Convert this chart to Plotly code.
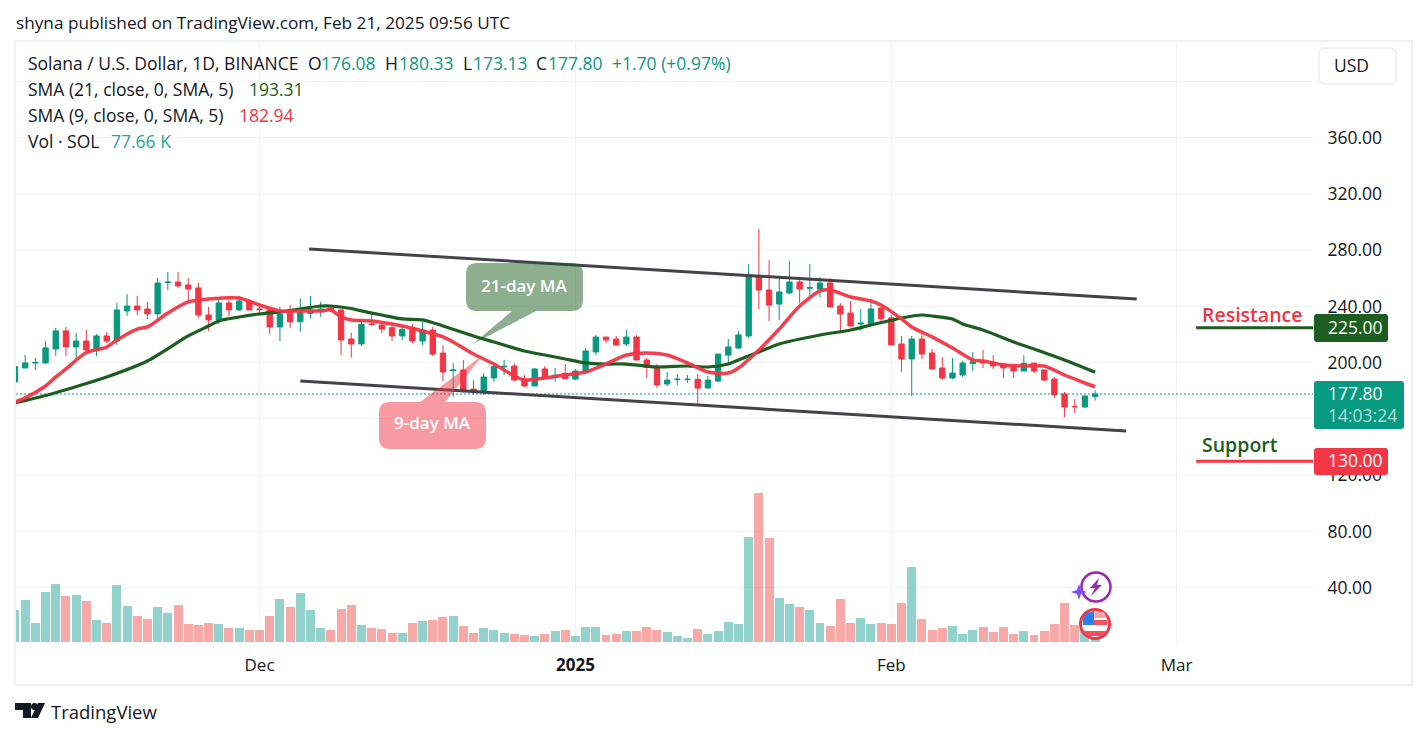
import pandas as pd
import plotly.graph_objects as go

W, H = 1427, 738

dates = pd.date_range('2024-11-07', '2025-02-21', freq='D')

opens = [186.4, 196.3, 199.8, 199.9, 209.8, 222.7, 211.3, 215.5, 209.1, 219.1, 215.5, 236.9, 240.4, 238.3, 234.8, 257.1, 257.5, 255.4, 253.3, 234.0, 230.5, 242.6, 237.6, 244.0,
         238.3, 237.6, 225.5, 237.6, 229.2, 235.2, 237.1, 239.0, 237.6, 216.9, 213.4, 227.6, 226.9, 225.0, 219.1, 224.7, 215.5, 223.3, 206.9, 194.4, 194.8, 181.3, 179.9, 189.2, 197.1, 197.7, 188.4, 183.5, 195.6, 189.6, 192.5,
         188.4, 193.4, 207.7, 218.3, 216.9, 213.4, 218.3, 202.0, 197.7, 184.9, 188.0, 188.0, 188.2, 182.0, 187.0, 205.5, 210.5, 219.1, 262.2, 251.8, 241.8, 249.7, 257.5, 253.1, 252.5, 256.8, 240.4, 235.4, 227.6, 227.6, 239.0,
         231.9, 213.4, 202.7, 216.9, 207.0, 196.3, 189.2, 191.3, 199.4, 200.5, 200.5, 199.1, 198.4, 194.1, 199.8, 194.9, 188.4, 177.8, 169.0, 168.5, 176.08]
highs = [197.3, 205.6, 203.4, 215.5, 224.8, 225.5, 221.2, 223.4, 220.5, 221.9, 242.6, 249.0, 247.6, 243.3, 260.4, 264.6, 264.6, 260.4, 256.8, 239.7, 244.7, 244.7, 247.6, 245.4,
         240.4, 238.3, 239.7, 241.2, 245.9, 247.5, 243.5, 241.1, 237.6, 221.4, 230.9, 235.2, 229.2, 226.9, 225.7, 227.6, 229.2, 225.7, 212.6, 199.6, 202.0, 187.7, 192.5, 199.1, 202.0, 199.6, 191.3, 196.3, 197.7, 196.3, 199.1,
         195.6, 210.5, 219.8, 218.3, 219.1, 223.3, 219.8, 203.4, 199.1, 193.4, 192.0, 191.3, 192.0, 190.6, 206.2, 216.9, 222.6, 270.3, 295.2, 273.1, 260.3, 272.4, 258.9, 270.3, 261.0, 260.3, 242.5, 244.0, 238.3, 245.4, 239.9,
         234.0, 219.1, 219.1, 220.5, 209.8, 204.1, 203.4, 201.3, 207.7, 209.1, 205.6, 199.1, 199.1, 205.5, 199.8, 195.6, 189.9, 179.2, 174.2, 176.4, 180.33]
lows = [186.4, 196.3, 194.9, 199.2, 204.9, 204.9, 201.3, 207.0, 204.9, 214.1, 212.7, 233.3, 234.0, 231.2, 230.5, 251.8, 253.3, 244.7, 231.9, 222.7, 227.6, 233.3, 236.9, 237.6,
        234.8, 220.5, 215.5, 224.8, 222.1, 231.6, 232.8, 236.4, 205.5, 203.6, 211.9, 226.4, 221.0, 215.5, 216.2, 213.8, 212.6, 204.8, 187.0, 175.9, 178.7, 177.3, 177.3, 186.5, 191.3, 187.0, 183.0, 183.5, 188.4, 186.5, 188.2,
        187.7, 193.4, 205.5, 214.0, 211.9, 211.9, 202.0, 189.2, 182.0, 183.5, 184.2, 185.6, 170.0, 182.0, 186.3, 198.4, 209.8, 217.6, 238.3, 229.7, 230.4, 248.9, 242.5, 247.5, 246.8, 239.7, 221.2, 225.7, 222.8, 226.9, 229.3,
        212.6, 193.4, 176.4, 202.7, 195.6, 187.7, 188.4, 189.9, 194.1, 196.3, 195.6, 189.2, 189.2, 194.1, 192.7, 187.0, 175.0, 161.4, 164.3, 167.8, 173.13]
closes = [197.3, 199.9, 200.2, 210.6, 222.7, 211.3, 215.5, 209.1, 219.1, 215.5, 237.6, 240.4, 237.6, 234.8, 256.8, 257.4, 254.7, 252.5, 234.0, 230.5, 242.6, 237.6, 244.0, 237.6,
          237.8, 225.5, 234.8, 229.1, 235.9, 237.6, 238.3, 237.1, 216.2, 213.4, 227.4, 227.2, 224.0, 219.1, 223.8, 215.5, 223.3, 206.2, 193.4, 194.8, 180.6, 179.9, 189.9, 197.2, 197.5, 187.7, 183.5, 195.6, 189.0, 191.1, 188.7,
          194.1, 208.4, 218.3, 216.2, 212.6, 218.3, 202.0, 196.8, 184.2, 187.7, 188.3, 188.3, 182.0, 187.7, 206.2, 211.2, 219.8, 262.2, 251.8, 241.1, 250.4, 257.5, 252.5, 253.5, 256.8, 239.7, 234.7, 226.2, 228.2, 238.3, 231.4,
          212.6, 202.7, 216.9, 206.2, 195.6, 189.2, 192.7, 199.8, 200.8, 200.0, 197.7, 196.3, 194.1, 199.6, 194.1, 187.7, 177.1, 168.5, 168.7, 176.4, 177.80]
volumes_k = [960, 1260, 570, 1500, 1740, 1380, 1410, 1230, 660, 570, 1710, 1080, 780, 690, 1050, 870, 1110, 540, 510, 570, 540, 420, 420, 360,
             360, 780, 1290, 1050, 1470, 960, 420, 360, 990, 1110, 510, 420, 390, 270, 270, 570, 630, 660, 750, 780, 480, 270, 420, 360, 270, 240, 210, 180, 240, 330, 360,
             180, 450, 450, 210, 240, 330, 330, 450, 360, 300, 180, 120, 390, 240, 330, 600, 540, 3150, 4470, 3120, 1320, 1140, 1050, 960, 570, 480, 1290, 570, 720, 540, 570,
             540, 1170, 2250, 690, 360, 420, 480, 240, 360, 450, 300, 450, 240, 330, 210, 330, 540, 1170, 510, 360, 77.66]

sma21_idx = [0, 3, 7, 9, 13, 17, 19, 20, 22, 24, 26, 28, 30, 31, 33, 34, 36, 38, 40, 42, 45, 47, 50, 52, 54, 56, 58, 60, 63, 66, 68, 70, 71, 73, 75, 79, 82, 84, 87, 89, 90, 92, 93, 95, 98, 100, 103, 106]
sma21_values = [171.4, 176.7, 185.3, 189.9, 201.3, 219.1, 226.2, 229.8, 232.6, 234.7, 236.2, 238.3, 240.4, 240.4, 238.6, 236.9, 234.0, 231.2, 230.5, 226.2, 219.1, 214.8, 208.4, 205.5, 202.7, 199.9, 199.1, 199.1, 197.0, 197.7, 197.0, 199.1, 202.0, 207.7, 213.4, 219.8, 223.3, 226.9, 231.9, 234.0, 233.3, 231.2, 227.6, 223.3, 214.8, 209.8, 202.0, 193.31]

sma9_idx = [0, 1, 3, 4, 5, 7, 9, 10, 12, 13, 15, 17, 19, 22, 24, 26, 28, 30, 31, 32, 33, 35, 38, 40, 42, 43, 45, 47, 49, 50, 52, 54, 56, 58, 60, 62, 64, 66, 68, 70, 71, 73, 75, 77, 79, 80, 82, 84, 85, 87, 88, 90, 92, 94, 95, 97, 99, 101, 103, 105, 106]
sma9_values = [172.1, 175.0, 183.5, 189.9, 195.6, 207.3, 211.2, 216.2, 224.0, 225.5, 235.4, 243.3, 245.4, 246.1, 241.1, 236.9, 236.9, 236.9, 237.6, 232.6, 230.5, 229.8, 226.2, 222.6, 218.4, 214.8, 206.3, 199.1, 190.6, 187.7, 189.2, 191.3, 193.4, 199.1, 205.5, 207.0, 205.5, 199.9, 193.4, 192.7, 196.3, 209.1, 224.0, 240.4, 251.1, 251.8, 246.8, 244.0, 241.1, 231.2, 225.5, 218.4, 210.5, 202.0, 201.3, 198.4, 197.7, 197.7, 191.3, 185.6, 182.94]

channel_top_x = ['2024-12-05 21:00', '2025-02-25 02:00']
channel_top_y = [281.0, 245.4]
channel_low_x = ['2024-12-05 00:00', '2025-02-24 01:00']
channel_low_y = [187.0, 151.5]

# 160.00 and 400.00 have a grid line but no visible label in the reference
price_ticks = [40, 80, 120, 160, 200, 240, 280, 320, 360, 400]
price_labels = ['40.00', '80.00', '120.00', '', '200.00', '240.00', '280.00', '320.00', '360.00', '']
date_ticks = ['2024-12-01', '2025-01-01', '2025-02-01', '2025-03-01']
date_labels = ['Dec', '<b>2025</b>', 'Feb', 'Mar']

last_price = 177.80
resistance = 225.00
support = 130.00

GREEN = '#089981'
RED = '#f23645'
DARK_GREEN = '#1b5e20'
INK = '#131722'
GRID = '#f3f3f4'
FONT = 'Open Sans'
TEXT_SIZE = 17.5

plot_left, plot_right, plot_top, plot_bottom = 16, 1313, 42, 643
x_range = ['2024-11-07 02:24', '2025-03-14 09:07']
y_range = [0.56, 428.3]


def px(x):
    return x / W


def py(y):
    return 1 - y / H


def pt(x, y):
    return f'{px(x):.5f},{py(y):.5f}'


def rrect(x0, y0, x1, y1, r, top=None, bottom=None):
    # rounded box, top / bottom put a callout tail in that edge: (x_a, x_b, tip_x, tip_y)
    p = f'M {pt(x0 + r, y0)} '
    if top:
        p += f'L {pt(top[0], y0)} L {pt(top[2], top[3])} L {pt(top[1], y0)} '
    p += f'L {pt(x1 - r, y0)} Q {pt(x1, y0)} {pt(x1, y0 + r)} L {pt(x1, y1 - r)} Q {pt(x1, y1)} {pt(x1 - r, y1)} '
    if bottom:
        p += f'L {pt(bottom[1], y1)} L {pt(bottom[2], bottom[3])} L {pt(bottom[0], y1)} '
    p += f'L {pt(x0 + r, y1)} Q {pt(x0, y1)} {pt(x0, y1 - r)} L {pt(x0, y0 + r)} Q {pt(x0, y0)} {pt(x0 + r, y0)} Z'
    return p


def poly(*points):
    return 'M ' + ' L '.join(pt(x, y) for x, y in points) + ' Z'


def path_shape(path, fill, line=None, width=0):
    return dict(type='path', xref='paper', yref='paper', path=path, fillcolor=fill,
                line=dict(color=line or fill, width=width), layer='above')


def circle(cx, cy, r, fill, line, width):
    return dict(type='circle', xref='paper', yref='paper', x0=px(cx - r), x1=px(cx + r), y0=py(cy + r), y1=py(cy - r),
                fillcolor=fill, line=dict(color=line, width=width), layer='above')


def label(x, y, text, color=INK, size=TEXT_SIZE, anchor='left', weight=None):
    return dict(xref='paper', yref='paper', x=px(x), y=py(y - 1), text=text, showarrow=False, xanchor=anchor,
                yanchor='middle', borderpad=0, font=dict(family=FONT, size=size, color=color, weight=weight))


fig = go.Figure()

vol_colors = ['rgba(38,166,154,0.5)' if c >= o else 'rgba(239,83,80,0.5)' for o, c in zip(opens, closes)]
fig.add_trace(go.Bar(x=dates, y=volumes_k, yaxis='y2', marker=dict(color=vol_colors, line_width=0),
                     width=0.88 * 86400000, hoverinfo='skip'))

fig.add_trace(go.Candlestick(x=dates, open=opens, high=highs, low=lows, close=closes,
                             increasing=dict(line=dict(color=GREEN, width=1), fillcolor=GREEN),
                             decreasing=dict(line=dict(color=RED, width=1), fillcolor=RED),
                             whiskerwidth=0, hoverinfo='skip'))

fig.add_trace(go.Scatter(x=[x_range[0], x_range[1]], y=[last_price, last_price], mode='lines',
                         line=dict(color=GREEN, width=1, dash='2px 2px'), hoverinfo='skip'))

fig.add_trace(go.Scatter(x=dates[sma21_idx], y=sma21_values, mode='lines',
                         line=dict(color=DARK_GREEN, width=3.2, shape='spline', smoothing=0.7), hoverinfo='skip'))
fig.add_trace(go.Scatter(x=dates[sma9_idx], y=sma9_values, mode='lines',
                         line=dict(color=RED, width=3.5, shape='spline', smoothing=0.7), hoverinfo='skip', opacity=0.95))

fig.add_trace(go.Scatter(x=channel_top_x, y=channel_top_y, mode='lines', line=dict(color='#434348', width=3), hoverinfo='skip'))
fig.add_trace(go.Scatter(x=channel_low_x, y=channel_low_y, mode='lines', line=dict(color='#434348', width=3), hoverinfo='skip'))

level_x = ['2025-03-02 22:00', x_range[1]]
fig.add_trace(go.Scatter(x=level_x, y=[resistance, resistance], mode='lines', line=dict(color=DARK_GREEN, width=3), hoverinfo='skip'))
fig.add_trace(go.Scatter(x=level_x, y=[support, support], mode='lines', line=dict(color=RED, width=3), hoverinfo='skip'))

shapes = [
    dict(type='rect', xref='paper', yref='paper', x0=px(15), x1=px(1412), y0=py(685), y1=py(41),
         line=dict(color='#f0f1f4', width=2), layer='below'),
    path_shape(rrect(466, 263, 583, 311, 11, bottom=(512, 536, 473, 344)), 'rgba(27,94,32,0.5)'),
    path_shape(rrect(379, 402, 486, 449, 11, top=(420, 445, 483, 355)), 'rgba(242,54,69,0.5)'),
    path_shape(rrect(1319, 48, 1396, 84, 6), '#ffffff', '#e0e3eb', 1),
    path_shape(rrect(1314, 314, 1388, 342, 3), DARK_GREEN),
    path_shape(rrect(1314, 381, 1404, 429, 3), GREEN),
    path_shape(rrect(1314, 448, 1388, 475, 3), RED),
    # event icons
    circle(1096, 587, 14.5, '#ffffff', '#9c27b0', 2.5),
    path_shape(poly((1099, 578), (1090, 588), (1095, 588), (1091, 596), (1102, 585), (1097, 585)), '#9c27b0'),
    path_shape(poly((1079, 584), (1081, 590), (1087, 592), (1081, 594), (1079, 600), (1077, 594), (1071, 592), (1077, 590)), '#7c4dff'),
    circle(1095, 624, 14.5, '#ffffff', RED, 3),
    path_shape(poly((1084, 616), (1093, 612), (1104, 612), (1107, 618), (1084, 618)), '#f4a6ab'),
    path_shape(poly((1093, 620), (1107, 620), (1107, 625), (1093, 625)), '#f2545f'),
    path_shape(poly((1083, 631), (1107, 631), (1102, 636), (1088, 636)), '#f2545f'),
    path_shape(poly((1083, 618), (1087, 613), (1094, 611), (1094, 625), (1083, 625)), '#2f80ed'),
    # TradingView logo
    path_shape(poly((15, 703), (31, 703), (31, 718), (23, 718), (23, 710), (15, 710)), INK),
    circle(34.5, 706.5, 3.5, INK, INK, 0),
    path_shape(poly((38, 703), (45, 703), (38, 718), (31, 718)), INK),
]

annotations = [
    label(15, 23, 'shyna published on TradingView.com, Feb 21, 2025 09:56 UTC', size=17.2),
    label(27, 64, 'Solana / U.S. Dollar, 1D, BINANCE'),
    label(307, 64, 'O'), label(320, 64, '176.08', GREEN),
    label(384, 64, 'H'), label(398, 64, '180.33', GREEN),
    label(462, 64, 'L'), label(472, 64, '173.13', GREEN),
    label(535, 64, 'C'), label(547, 64, '177.80', GREEN),
    label(611, 64, '+1.70 (+0.97%)', GREEN),
    label(27, 90, 'SMA (21, close, 0, SMA, 5)'), label(248, 90, '193.31', DARK_GREEN),
    label(27, 116, 'SMA (9, close, 0, SMA, 5)'), label(238, 116, '182.94', RED),
    label(27, 142, 'Vol · SOL'), label(110, 142, '77.66 K', '#26a69a'),
    label(1333, 66, 'USD'),
    label(524, 286, '21-day MA', '#ffffff', 17, 'center', 600),
    label(432, 424, '9-day MA', '#ffffff', 17, 'center', 600),
    label(1201, 315, 'Resistance', RED, 19.5, weight=600),
    label(1201, 445, 'Support', DARK_GREEN, 19.5, weight=600),
    label(1327, 328, '225.00', '#ffffff'),
    label(1327, 394, '177.80', '#ffffff'),
    label(1327, 416, '14:03:24', 'rgba(255,255,255,0.7)'),
    label(1327, 461, '130.00', '#ffffff'),
    label(50, 712, 'TradingView', INK, 18.5),
]

fig.update_layout(
    width=W, height=H, autosize=False,
    margin=dict(l=0, r=0, t=0, b=0),
    paper_bgcolor='#ffffff', plot_bgcolor='#ffffff',
    showlegend=False,
    bargap=0,
    boxgap=0.25,
    font=dict(family=FONT, size=TEXT_SIZE, color=INK),
    shapes=shapes,
    annotations=annotations,
    xaxis=dict(type='date', domain=[plot_left / W, plot_right / W], range=x_range,
               rangeslider=dict(visible=False), tickmode='array', tickvals=date_ticks, ticktext=date_labels,
               showgrid=True, gridcolor=GRID, gridwidth=1, zeroline=False, showline=False,
               ticks='outside', ticklen=7, tickcolor='rgba(0,0,0,0)', tickfont=dict(size=17, color=INK)),
    yaxis=dict(domain=[1 - plot_bottom / H, 1 - plot_top / H], range=y_range, side='right',
               tickmode='array', tickvals=price_ticks, ticktext=price_labels,
               showgrid=True, gridcolor=GRID, gridwidth=1, zeroline=False, showline=False,
               ticks='outside', ticklen=10, tickcolor='rgba(0,0,0,0)', tickfont=dict(size=TEXT_SIZE, color=INK)),
    yaxis2=dict(overlaying='y', side='left', range=[-30, 18030], visible=False),
)

fig.write_html('out.html', config=dict(displayModeBar=False),
               post_script="document.body.style.margin='0';document.body.style.overflow='hidden';")
